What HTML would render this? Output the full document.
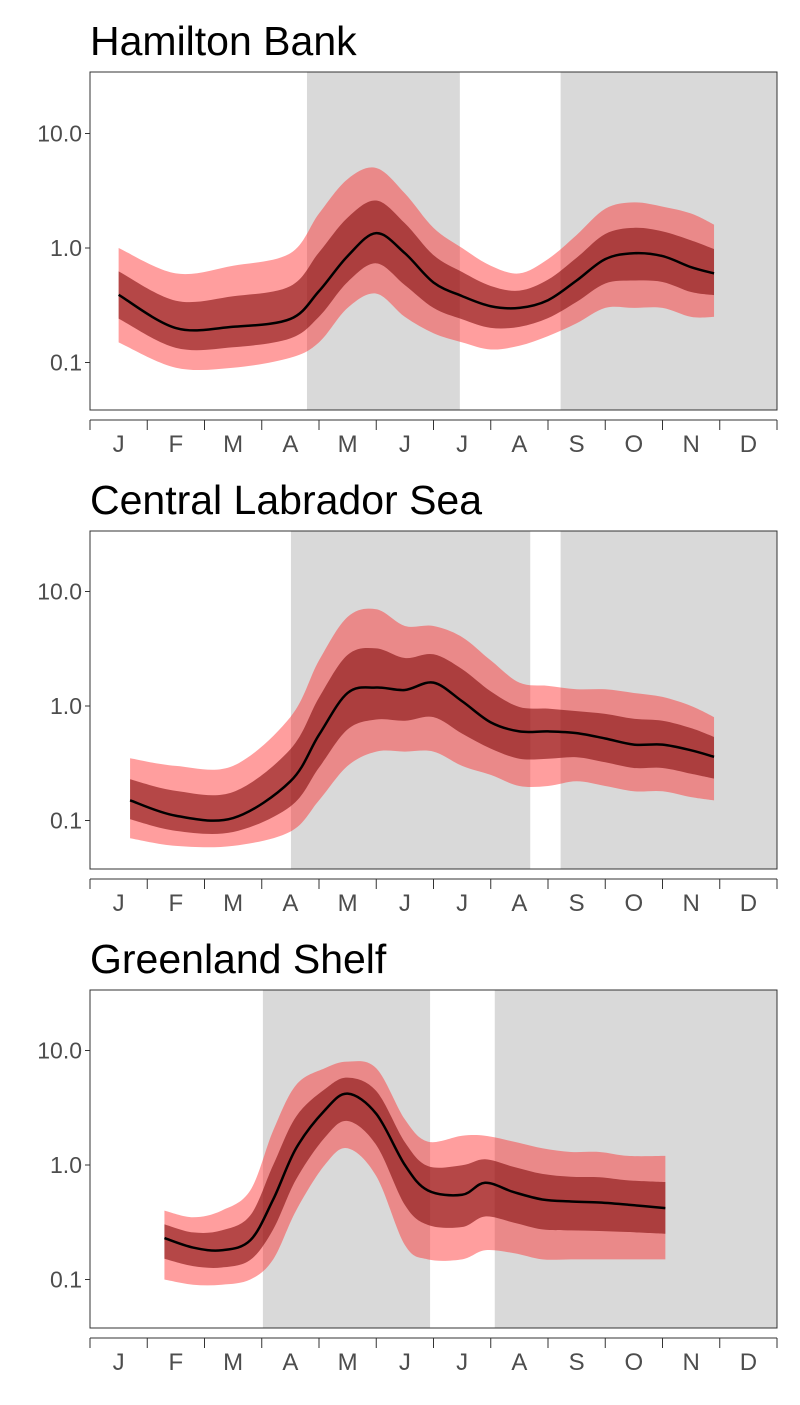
<!DOCTYPE html>
<html><head><meta charset="utf-8">
<style>
html,body{margin:0;padding:0;background:#fff;}
svg text{font-family:"Liberation Sans",Arial,sans-serif;}
</style></head>
<body>
<svg id="chart" width="800" height="1400" viewBox="0 0 800 1400"></svg>
<script>
const monthLabels = ["J","F","M","A","M","J","J","A","S","O","N","D"];
const yTickValues = [0.1, 1.0, 10.0];
const yTickLabels = ["0.1","1.0","10.0"];
const panelTitles = ["Hamilton Bank","Central Labrador Sea","Greenland Shelf"];
const grayP1 = [[3.79,6.46],[8.22,12]];
const grayP2 = [[3.51,7.69],[8.22,12]];
const grayP3 = [[3.02,5.94],[7.07,12]];
const monthsP1 = [0.5,1.5,2.5,3.5,4.0,4.5,5.0,5.5,6.0,6.5,7.0,7.5,8.0,8.5,9.0,9.5,10.0,10.5,10.9];
const curveP1 = [0.39,0.20,0.205,0.24,0.42,0.85,1.35,0.9,0.5,0.38,0.31,0.30,0.35,0.52,0.8,0.9,0.85,0.68,0.6];
const loP1 = [0.15,0.09,0.09,0.11,0.15,0.3,0.4,0.25,0.18,0.15,0.13,0.14,0.17,0.22,0.3,0.3,0.3,0.25,0.25];
const hiP1 = [1.0,0.6,0.7,0.9,2.0,4.0,5,3,1.5,1.0,0.7,0.6,0.8,1.3,2.2,2.5,2.3,2,1.6];
const monthsP2 = [0.7,1.5,2.5,3.5,4.0,4.5,5.0,5.5,6.0,6.5,7.0,7.5,8.0,8.5,9.0,9.5,10.0,10.5,10.9];
const curveP2 = [0.15,0.11,0.105,0.22,0.56,1.3,1.45,1.38,1.6,1.1,0.72,0.6,0.6,0.58,0.52,0.46,0.46,0.41,0.36];
const loP2 = [0.07,0.06,0.06,0.08,0.15,0.3,0.4,0.4,0.4,0.3,0.25,0.2,0.2,0.22,0.2,0.18,0.18,0.16,0.15];
const hiP2 = [0.35,0.3,0.3,0.8,2.5,6,7,5,5,4,2.5,1.6,1.5,1.4,1.4,1.3,1.2,1.0,0.8];
const monthsP3 = [1.3,1.8,2.3,2.8,3.2,3.6,4.1,4.5,5.0,5.5,5.9,6.5,6.9,7.4,7.9,8.4,8.9,9.4,10.05];
const curveP3 = [0.23,0.19,0.18,0.22,0.5,1.4,3.0,4.2,2.8,1.0,0.6,0.55,0.7,0.58,0.5,0.48,0.47,0.45,0.42];
const loP3 = [0.1,0.09,0.09,0.1,0.15,0.4,1.0,1.4,0.8,0.2,0.15,0.15,0.18,0.17,0.15,0.15,0.15,0.15,0.15];
const hiP3 = [0.4,0.35,0.4,0.6,2.0,5,7,8,7,2.5,1.6,1.8,1.8,1.6,1.4,1.3,1.3,1.2,1.2];

const NS = "http://www.w3.org/2000/svg";
const svg = document.getElementById("chart");
function mk(tag, attrs, parent){
  const e = document.createElementNS(NS, tag);
  for (const k in attrs) e.setAttribute(k, attrs[k]);
  (parent||svg).appendChild(e);
  return e;
}
function smooth(pts, start){
  let d = (start ? "M" : "L") + pts[0][0] + "," + pts[0][1];
  for (let i = 0; i < pts.length - 1; i++) {
    const p0 = pts[Math.max(0,i-1)], p1 = pts[i], p2 = pts[i+1], p3 = pts[Math.min(pts.length-1,i+2)];
    const c1x = p1[0] + (p2[0]-p0[0])/6, c1y = p1[1] + (p2[1]-p0[1])/6;
    const c2x = p2[0] - (p3[0]-p1[0])/6, c2y = p2[1] - (p3[1]-p1[1])/6;
    d += "C" + c1x + "," + c1y + " " + c2x + "," + c2y + " " + p2[0] + "," + p2[1];
  }
  return d;
}
const panels = [
  {top:72, bottom:410, one:248, titleY:55, gray:grayP1, m:monthsP1, c:curveP1, lo:loP1, hi:hiP1},
  {top:531, bottom:869, one:706, titleY:514, gray:grayP2, m:monthsP2, c:curveP2, lo:loP2, hi:hiP2},
  {top:990, bottom:1328, one:1165, titleY:973, gray:grayP3, m:monthsP3, c:curveP3, lo:loP3, hi:hiP3}
];
const X0 = 90, X1 = 777, MW = (X1 - X0) / 12, DEC = 114.5;
function xs(m){ return X0 + m * MW; }

panels.forEach((p, i) => {
  const g = mk("g", {});
  
  
  const ys = v => p.one - Math.log10(v) * DEC;
  const t = mk("text", {x:90, y:p.titleY, "font-size":41, fill:"#000"}, g);
  t.textContent = panelTitles[i];
  
  
  p.gray.forEach(r => {
    const rect = mk("rect", {x:xs(r[0]), y:p.top, width:xs(r[1])-xs(r[0]), height:p.bottom-p.top, fill:"#d9d9d9"}, g);
    
    
  });
  const hiPts = p.m.map((m,k) => [xs(m), ys(p.hi[k])]);
  const loPts = p.m.map((m,k) => [xs(m), ys(p.lo[k])]).reverse();
  const band = mk("path", {d:smooth(hiPts,true) + smooth(loPts,false) + "Z", fill:"rgba(255,40,40,0.45)"}, g);
  
  
  const hi2 = p.m.map((m,k) => [xs(m), ys(Math.sqrt(p.hi[k]*p.c[k]))]);
  const lo2 = p.m.map((m,k) => [xs(m), ys(Math.sqrt(p.lo[k]*p.c[k]))]).reverse();
  const band2 = mk("path", {d:smooth(hi2,true) + smooth(lo2,false) + "Z", fill:"rgba(120,0,0,0.55)"}, g);
  
  
  const cPts = p.m.map((m,k) => [xs(m), ys(p.c[k])]);
  const cu = mk("path", {d:smooth(cPts,true), fill:"none", stroke:"#000", "stroke-width":2.5, "stroke-linejoin":"round"}, g);
  
  
  const fr = mk("rect", {x:X0, y:p.top, width:X1-X0, height:p.bottom-p.top, fill:"none", stroke:"#333", "stroke-width":1}, g);
  
  
  yTickValues.forEach((v, k) => {
    const y = ys(v);
    mk("line", {x1:X0-5, x2:X0, y1:y, y2:y, stroke:"#333"}, g);
    const lt = mk("text", {x:X0-8, y:y+8, "font-size":23, fill:"#4d4d4d", "text-anchor":"end"}, g);
    lt.textContent = yTickLabels[k];
    
    
  });
  const ty = p.bottom + 10;
  for (let k = 0; k <= 12; k++) {
    mk("line", {x1:xs(k), x2:xs(k), y1:ty, y2:ty+10, stroke:"#333"}, g);
  }
  mk("line", {x1:X0, x2:X1, y1:ty, y2:ty, stroke:"#333"}, g);
  monthLabels.forEach((lab, k) => {
    const lt = mk("text", {x:xs(k+0.5), y:p.bottom + 42, "font-size":24, fill:"#4d4d4d", "text-anchor":"middle"}, g);
    lt.textContent = lab;
    
    
  });
});
</script>
</body></html>
